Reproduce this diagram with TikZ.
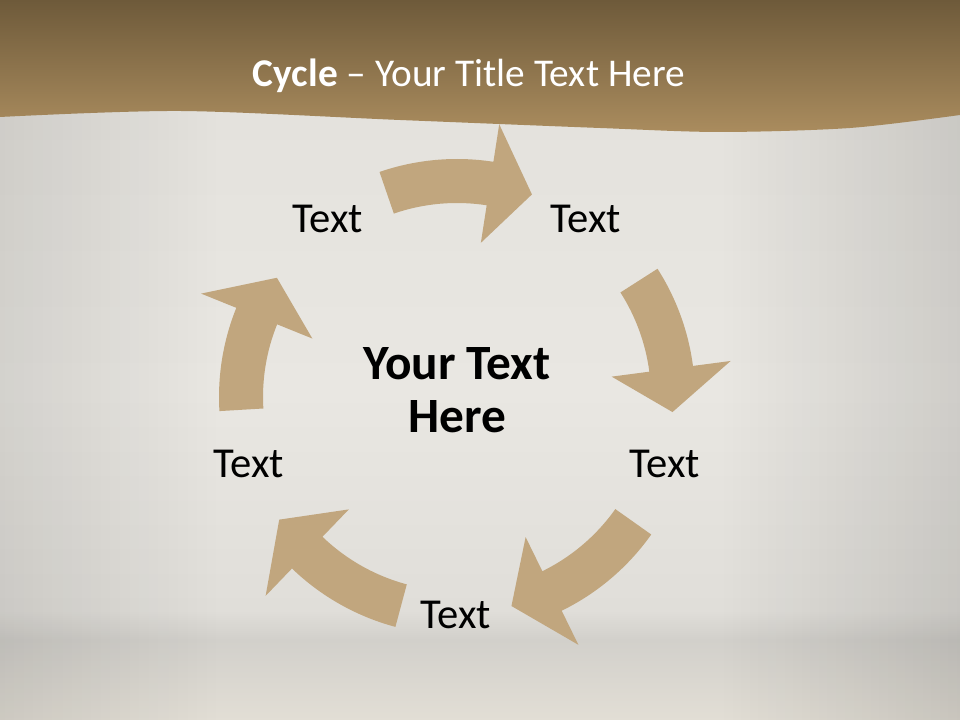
\documentclass[tikz,border=0pt]{standalone}
\usepackage{fontspec}
\setmainfont{Carlito}
\usetikzlibrary{arrows.meta, fadings}

\definecolor{bandtop}{RGB}{110,90,58}
\definecolor{bandbot}{RGB}{170,140,94}
\definecolor{wallhi}{RGB}{233,231,226}
\definecolor{walllo}{RGB}{226,224,219}
\definecolor{wallmid}{RGB}{224,222,217}
\definecolor{floordk}{RGB}{210,208,203}
\definecolor{floorlt}{RGB}{226,222,213}
\definecolor{arrowtan}{RGB}{193,166,126}

\tikzfading[name=faderight, left color=transparent!0, right color=transparent!100]
\tikzfading[name=fadeleft, left color=transparent!100, right color=transparent!0]

% curved arrow: tail angle, tip angle (clockwise)
\newcommand{\cyclearrow}[2]{%
  \fill[cyclearrow] (#1:194) -- (#1:238)
    arc[start angle=#1, end angle=#2+11.5, radius=238]
    -- (#2+11.5:276) -- (#2:216) -- (#2+11.5:156) -- (#2+11.5:194)
    arc[start angle=#2+11.5, end angle=#1, radius=194] -- cycle;}

\begin{document}
\begin{tikzpicture}[
  x=0.75pt,
  y=0.75pt,
  line join=round,
  cyclearrow/.style={
    fill=arrowtan
  },
  title/.style={
    text=white,
    anchor=base,
    font=\fontsize{29.5}{35}\selectfont,
    inner sep=0pt
  },
  label/.style={
    text=black,
    font=\fontsize{32}{38}\selectfont,
    inner sep=0pt
  },
  hubtext/.style={
    text=black,
    align=center,
    font=\fontsize{37}{39.5}\selectfont\bfseries,
    inner sep=0pt
  }
]

\useasboundingbox (0,0) rectangle (960,720);

% =========================================================
% Background: wall, floor and header band
% =========================================================

\shade[top color=walllo, bottom color=wallhi] (0,330) rectangle (960,720);
\shade[top color=wallhi, bottom color=wallmid] (0,110) rectangle (960,330);
\shade[top color=wallmid, bottom color=floordk] (0,80) rectangle (960,110);
\shade[top color=floordk, bottom color=floorlt] (0,0) rectangle (960,80);

% darker side walls
\fill[black, opacity=0.09, path fading=faderight] (0,0) rectangle (220,720);
\fill[black, opacity=0.11, path fading=fadeleft] (720,0) rectangle (960,720);

\shade[top color=bandtop, bottom color=bandbot]
  (0,720) -- plot[smooth] coordinates {(0,603) (180,609) (400,600)
    (600,592) (720,588) (850,592) (960,605)}
  -- (960,720) -- cycle;

\node[title] (title) at (469,633)
{\textbf{Cycle} \textendash{} Your Title Text Here};

% =========================================================
% Cycle
% =========================================================

\node[hubtext] (hub) at (457,330) {Your Text\\Here};

\node[label] (txtnw) at (328,501) {Text};
\node[label] (txtne) at (586,501) {Text};
\node[label] (txte)  at (665,256) {Text};
\node[label] (txts)  at (456,105) {Text};
\node[label] (txtw)  at (249,256) {Text};

% arrows round the hub, clockwise
\begin{scope}[shift={(457,323)}]
  \cyclearrow{109}{69.7}
  \cyclearrow{32.6}{-4}
  \cyclearrow{-35.3}{-75.4}
  \cyclearrow{-105}{-145.4}
  \cyclearrow{183.4}{146.5}
\end{scope}

\end{tikzpicture}
\end{document}
